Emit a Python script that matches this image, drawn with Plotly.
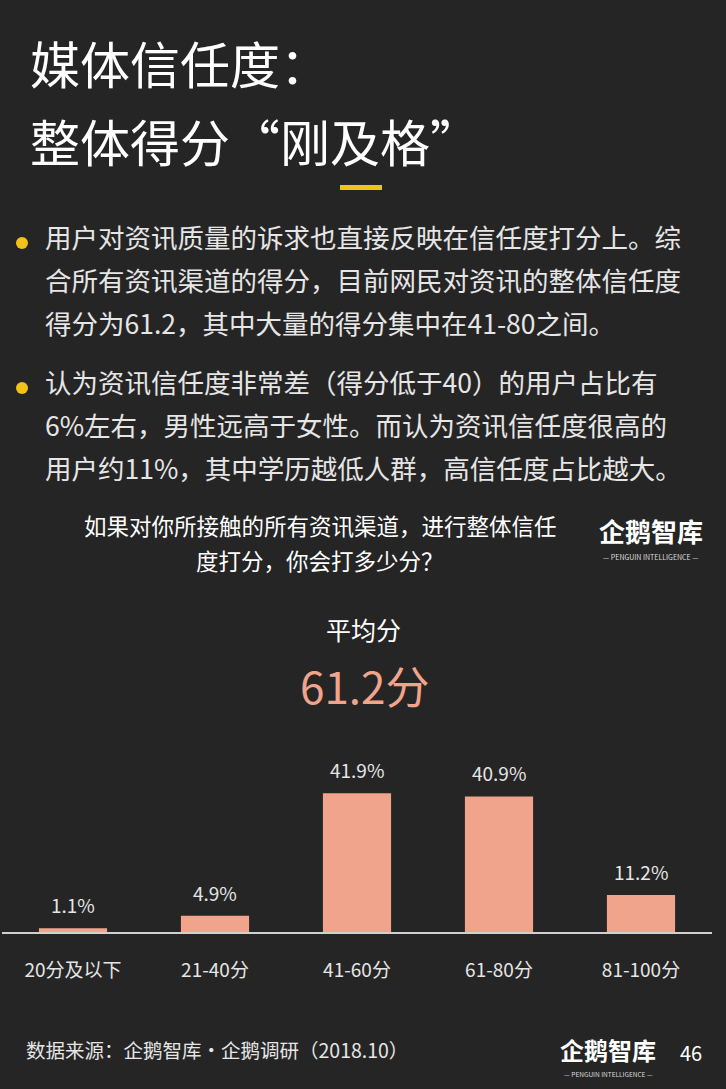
import plotly.graph_objects as go

categories = ["20分及以下", "21-40分", "41-60分", "61-80分", "81-100分"]
values = [1.1, 4.9, 41.9, 40.9, 11.2]
value_labels = ["1.1%", "4.9%", "41.9%", "40.9%", "11.2%"]

title_lines = ["媒体信任度：", "整体得分“刚及格”"]
bullet1 = ["用户对资讯质量的诉求也直接反映在信任度打分上。综",
           "合所有资讯渠道的得分，目前网民对资讯的整体信任度",
           "得分为61.2，其中大量的得分集中在41-80之间。"]
bullet2 = ["认为资讯信任度非常差（得分低于40）的用户占比有",
           "6%左右，男性远高于女性。而认为资讯信任度很高的",
           "用户约11%，其中学历越低人群，高信任度占比越大。"]
question = ["如果对你所接触的所有资讯渠道，进行整体信任", "度打分，你会打多少分？"]
avg_label = "平均分"
avg_value = "61.2分"
source = "数据来源：企鹅智库·企鹅调研（2018.10）"
page_no = "46"

W, H = 726, 1089
FONT = "Noto Sans CJK SC"
BG = "#252525"
BAR = "#F0A48C"
YEL = "#F2C21B"
TXT = "#EDEDED"

def px(x):
    return x / W

def py(y):
    return 1 - y / H

fig = go.Figure()
fig.add_trace(go.Bar(x=categories, y=values, marker=dict(color=BAR, line=dict(width=0)),
                     width=0.48, hoverinfo="skip"))

ann = []
def text(x, y, s, size, color=TXT, xanchor="left", yanchor="middle", family=FONT):
    ann.append(dict(x=px(x), y=py(y), xref="paper", yref="paper", text=s, showarrow=False,
                    xanchor=xanchor, yanchor=yanchor, font=dict(family=family, size=size, color=color)))

# title
text(28, 62, title_lines[0], 50, "#FFFFFF")
text(28, 140, title_lines[1], 50, "#FFFFFF")

# bullets
for i, s in enumerate(bullet1):
    text(43, 237 + i * 42.5, s, 26.5, "#E6E6E6")
for i, s in enumerate(bullet2):
    text(43, 382 + i * 42.5, s, 26.5, "#E6E6E6")

# question
text(320, 543, question[0], 22.5, "#FFFFFF", "center", "bottom")
text(320, 542, question[1], 22.5, "#FFFFFF", "center", "top")

# logos
text(651, 531, "<b>企鹅智库</b>", 26, "#FFFFFF", "center")
text(651, 557, "— PENGUIN INTELLIGENCE —", 7, "#DDDDDD", "center")
text(608, 1049, "<b>企鹅智库</b>", 24, "#FFFFFF", "center")
text(608, 1074, "— PENGUIN INTELLIGENCE —", 6.5, "#DDDDDD", "center")

# average
text(364, 649, avg_label, 25, "#FFFFFF", "center", "bottom")
text(365, 651, avg_value, 44, BAR, "center", "top")

# footer
text(24, 1049, source, 19.5, "#E6E6E6")
text(691, 1052, page_no, 20, "#FFFFFF", "center")

# value labels
for c, v, l in zip(categories, values, value_labels):
    ann.append(dict(x=c, y=v, xref="x", yref="y", text=l, showarrow=False, yanchor="bottom",
                    yshift=8, font=dict(family=FONT, size=19, color="#E6E6E6")))

shapes = [
    dict(type="rect", xref="paper", yref="paper", x0=px(340), x1=px(382), y0=py(190), y1=py(185),
         fillcolor=YEL, line=dict(width=0)),
    dict(type="circle", xref="paper", yref="paper", x0=px(16), x1=px(28), y0=py(249), y1=py(237),
         fillcolor=YEL, line=dict(width=0)),
    dict(type="circle", xref="paper", yref="paper", x0=px(16), x1=px(28), y0=py(394), y1=py(382),
         fillcolor=YEL, line=dict(width=0)),
]

fig.update_layout(
    width=W, height=H, margin=dict(l=0, r=0, t=0, b=0),
    paper_bgcolor=BG, plot_bgcolor=BG, showlegend=False,
    annotations=ann, shapes=shapes,
    font=dict(family=FONT, color=TXT),
    xaxis=dict(domain=[px(2), px(712)], showline=True, linecolor="#D0D0D0", linewidth=1.5,
               showgrid=False, zeroline=False, ticks="", ticklabelstandoff=20,
               tickfont=dict(family=FONT, size=19, color="#E6E6E6"), fixedrange=True),
    yaxis=dict(domain=[py(932), py(700)], range=[0, 70], showgrid=False, zeroline=False,
               showticklabels=False, showline=False, fixedrange=True),
)

fig.write_html("out.html", config={"displayModeBar": False},
               post_script="document.body.style.margin='0';document.body.style.background='#252525';")
